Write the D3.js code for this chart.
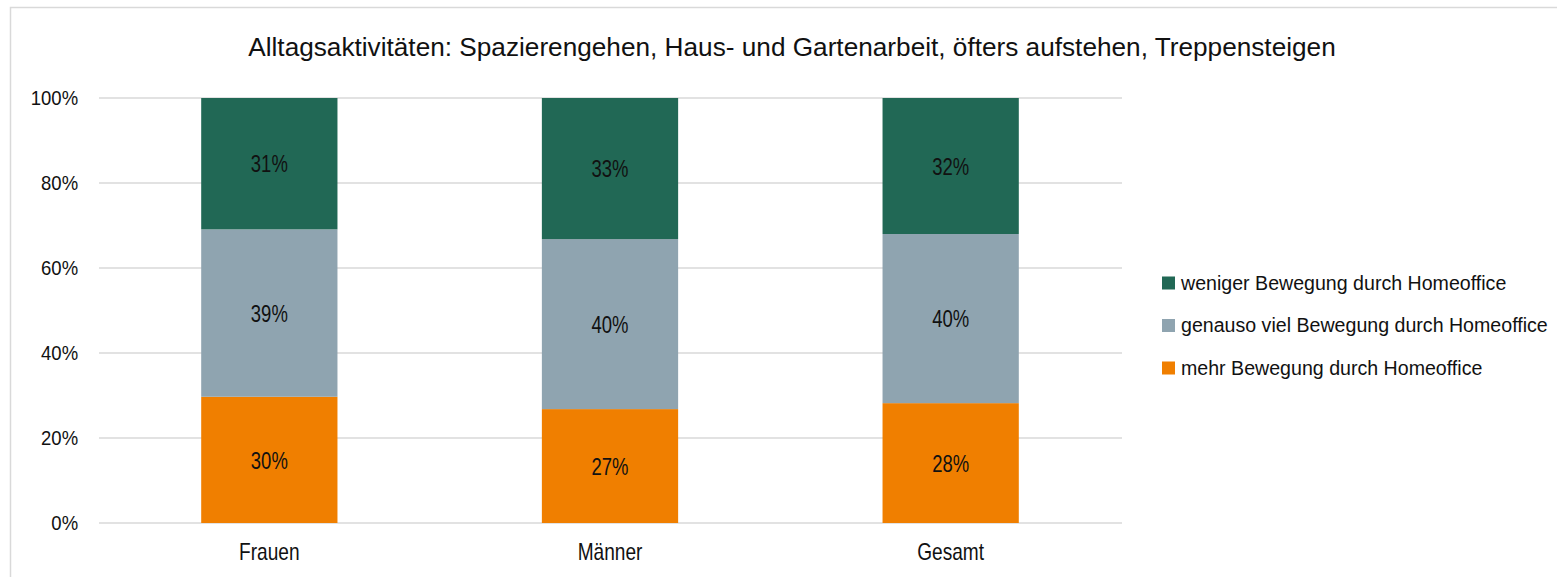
<!DOCTYPE html>
<html>
<head>
<meta charset="utf-8">
<script src="https://cdn.jsdelivr.net/npm/d3@7"></script>
<style>
  body { margin: 0; background: #fff; }
  text { font-family: "Liberation Sans", Arial, sans-serif; fill: #111; }
</style>
</head>
<body>
<div id="chart"></div>
<script>
var categories = ["Frauen", "Männer", "Gesamt"];
var seriesNames = ["mehr Bewegung durch Homeoffice",
                   "genauso viel Bewegung durch Homeoffice",
                   "weniger Bewegung durch Homeoffice"];
var mehr = [0.297, 0.268, 0.282];
var genauso = [0.394, 0.400, 0.398];
var weniger = [0.309, 0.332, 0.320];
var colors = ["#f07f00", "#8fa4b0", "#216855"];
var yTicks = [0, 0.2, 0.4, 0.6, 0.8, 1.0];

var W = 1557, H = 577;
var svg = d3.select("#chart").append("svg")
    .attr("width", W)
    .attr("height", H);

// chart frame
svg.append("rect")
   .attr("x", 10.5).attr("y", 7.5)
   .attr("width", W).attr("height", H)
   .attr("fill", "none")
   .attr("stroke", "#d9d9d9")
   .attr("stroke-width", 1.5);

var plotLeft = 99, plotRight = 1121, plotTop = 98, plotBottom = 523;

var x = d3.scaleBand().domain(categories).range([plotLeft, plotRight])
          .paddingInner(0.6).paddingOuter(0.3);
var y = d3.scaleLinear().domain([0, 1]).range([plotBottom, plotTop]);

// gridlines
svg.append("g")
   .selectAll("line")
   .data(yTicks)
   .enter().append("line")
   .attr("x1", plotLeft).attr("x2", plotRight + 1)
   .attr("y1", function(d){ return y(d); })
   .attr("y2", function(d){ return y(d); })
   .attr("stroke", "#d9d9d9")
   .attr("stroke-width", 1.5);

// y axis labels
var yAxis = d3.axisLeft(y).tickValues(yTicks).tickFormat(d3.format(".0%")).tickSize(0).tickPadding(22);
var gy = svg.append("g").attr("transform", "translate(" + plotLeft + ",0)").call(yAxis);
gy.select(".domain").remove();
gy.selectAll("text").style("font-size", "19.5px").attr("fill", "#111")
  .style("font-family", "'Liberation Sans', Arial, sans-serif")
  .attr("transform", "scale(0.95,1)");

// x axis labels (text is a bit taller and narrower in the original)
var xAxis = d3.axisBottom(x).tickSize(0).tickFormat("");
var gx = svg.append("g").attr("transform", "translate(0," + plotBottom + ")").call(xAxis);
gx.select(".domain").remove();
gx.selectAll(".tick").append("text")
  .attr("transform", "translate(0,37) scale(0.83,1)")
  .attr("text-anchor", "middle")
  .attr("fill", "#111")
  .style("font-size", "23px")
  .text(function(d){ return d; });

// stack data
var rows = categories.map(function(c, i){
  return { cat: c, mehr: mehr[i], genauso: genauso[i], weniger: weniger[i] };
});
var stack = d3.stack().keys(["mehr", "genauso", "weniger"]);
var layers = stack(rows);

var fmt = d3.format(".0%");
layers.forEach(function(layer, li){
  var g = svg.append("g");
  g.selectAll("rect")
   .data(layer)
   .enter().append("rect")
   .attr("x", function(d){ return x(d.data.cat); })
   .attr("width", x.bandwidth())
   .attr("y", function(d){ return y(d[1]); })
   .attr("height", function(d){ return y(d[0]) - y(d[1]); })
   .attr("fill", colors[li]);
  g.selectAll("text")
   .data(layer)
   .enter().append("text")
   .attr("transform", function(d){
     var cx = x(d.data.cat) + x.bandwidth() / 2;
     var cy = (y(d[0]) + y(d[1])) / 2;
     return "translate(" + cx + "," + cy + ") scale(0.77,1)";
   })
   .attr("dy", "0.36em")
   .attr("text-anchor", "middle")
   .style("font-size", "24px")
   .text(function(d){ return fmt(d[1] - d[0]); });
});

// title
svg.append("text")
   .attr("x", 792).attr("y", 56)
   .attr("text-anchor", "middle")
   .style("font-size", "26.2px")
   .text("Alltagsaktivitäten: Spazierengehen, Haus- und Gartenarbeit, öfters aufstehen, Treppensteigen");

// legend (top entry is "weniger")
var legendOrder = [2, 1, 0];
var legend = svg.append("g").attr("transform", "translate(1162,283)");
legendOrder.forEach(function(si, i){
  var row = legend.append("g").attr("transform", "translate(0," + (i * 42.5) + ")");
  row.append("rect")
     .attr("x", 0).attr("y", -6.5)
     .attr("width", 13).attr("height", 13)
     .attr("fill", colors[si]);
  row.append("text")
     .attr("x", 19).attr("y", 0)
     .attr("dy", "0.35em")
     .style("font-size", "19.6px")
     .text(seriesNames[si]);
});
</script>
</body>
</html>
